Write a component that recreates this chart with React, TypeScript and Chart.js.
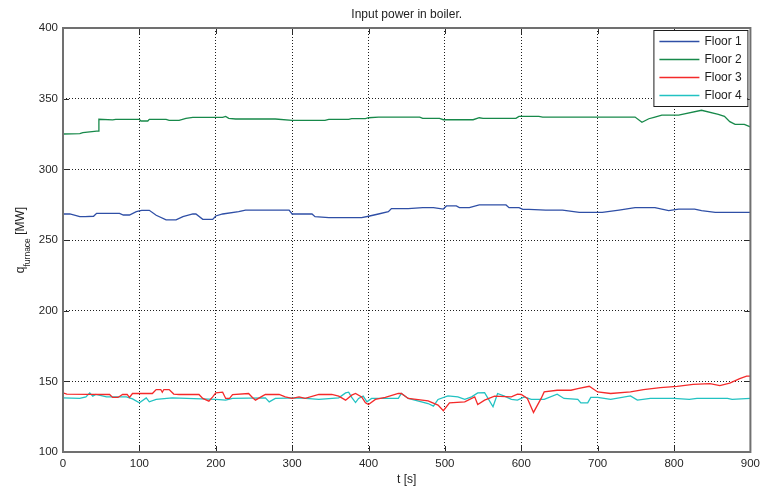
import React, { useEffect, useRef } from 'react';
import { Chart, registerables } from 'chart.js';

Chart.register(...registerables);

// ---- data (time in s, power in MW) ----
const floor1T = [0, 9, 22, 29, 40, 44, 74, 79, 87, 96, 103, 113, 122, 135, 148, 157, 170, 174, 183, 196, 200, 209, 230, 239, 296, 300, 326, 330, 348, 391, 400, 413, 426, 430, 452, 471, 485, 498, 502, 515, 519, 532, 545, 580, 584, 597, 602, 610, 632, 654, 676, 706, 728, 749, 775, 793, 806, 827, 836, 854, 900];
const floor1V = [268.4, 268.4, 266.5, 266.5, 266.8, 268.9, 268.9, 267.7, 267.7, 270, 271, 271, 267.5, 264.2, 264.2, 266.5, 268.4, 268.4, 264.6, 264.6, 267, 268.4, 270, 271.2, 271.2, 268.4, 268.4, 266.5, 265.8, 265.8, 266.8, 268.4, 270, 272.2, 272.2, 272.9, 272.9, 271.9, 274.1, 274.1, 272.9, 272.9, 274.8, 274.8, 272.9, 272.9, 271.7, 271.7, 271.2, 271.2, 269.6, 269.6, 271.2, 272.9, 272.9, 270.8, 271.9, 271.9, 270.8, 269.6, 269.6];

const floor2T = [0, 22, 26, 44, 46, 47, 65, 69, 100, 102, 111, 113, 135, 139, 152, 161, 170, 209, 213, 217, 226, 278, 300, 317, 343, 348, 374, 378, 396, 400, 413, 452, 467, 471, 493, 498, 537, 545, 550, 593, 597, 623, 628, 749, 758, 767, 775, 784, 806, 836, 858, 866, 873, 880, 892, 900];
const floor2V = [325, 325.3, 325.9, 327.1, 327.1, 335.4, 335, 335.4, 335.4, 334.2, 334.2, 335.4, 335.4, 334.7, 334.7, 336.1, 336.8, 336.8, 337.4, 336.1, 335.6, 335.6, 334.7, 334.7, 334.7, 335.4, 335.4, 335.9, 335.9, 336.5, 337, 337, 337, 336.1, 336.1, 335.1, 335.1, 336.5, 336.1, 336.1, 337.5, 337.5, 337, 337, 333.3, 335.8, 337, 338.4, 338.4, 341.8, 338.9, 337.5, 333.7, 331.8, 331.8, 330];

const floor3T = [0, 5, 61, 65, 72, 78, 84, 87, 91, 117, 122, 128, 130, 132, 139, 145, 152, 178, 183, 191, 196, 200, 209, 213, 218, 222, 243, 248, 252, 261, 265, 283, 291, 300, 309, 317, 335, 352, 361, 370, 378, 383, 391, 396, 400, 409, 422, 439, 443, 452, 478, 491, 498, 506, 526, 539, 543, 552, 565, 587, 595, 600, 608, 616, 626, 630, 647, 665, 674, 689, 700, 717, 743, 760, 782, 804, 825, 847, 860, 873, 886, 895, 900];
const floor3V = [141.8, 141, 140.7, 138.6, 138.6, 140.7, 140.7, 138.6, 141.4, 141.4, 144.2, 144.2, 142.3, 144.2, 144.2, 141, 140.7, 140.7, 137.9, 136, 139, 141.8, 142.3, 137.9, 138, 140.6, 141.4, 138.6, 136.7, 139.5, 140.7, 140.7, 139, 137.9, 139, 137.9, 140.7, 140.7, 139.5, 136.7, 140.2, 141.4, 139, 134.8, 133.6, 137.2, 138.6, 141.4, 141.4, 137.9, 136.2, 133.2, 129.2, 134.8, 135.5, 139, 133.6, 136.7, 139.5, 139, 140.9, 140.7, 137.9, 128, 137.9, 142.5, 143.7, 143.7, 144.9, 146.5, 142.5, 141.4, 142.5, 144.2, 145.6, 146.5, 147.9, 148.4, 147, 148.8, 151.9, 153.7, 153.7];

const floor4T = [0, 22, 30, 35, 39, 43, 57, 83, 91, 100, 109, 113, 122, 143, 200, 213, 222, 265, 270, 278, 309, 335, 361, 370, 374, 378, 383, 387, 393, 398, 404, 439, 443, 452, 478, 485, 491, 504, 517, 526, 535, 543, 552, 563, 569, 578, 587, 595, 604, 613, 630, 647, 656, 674, 678, 687, 691, 700, 717, 743, 752, 769, 800, 820, 830, 870, 876, 900];
const floor4V = [138.3, 137.9, 139, 141.8, 139.5, 140.7, 139, 139, 137.6, 134.8, 138.3, 135.5, 137.2, 138.3, 137.2, 136.7, 137.9, 138.3, 135.5, 137.9, 138.3, 137.2, 138.3, 141.8, 142.3, 138.6, 135, 137.9, 139.5, 135.5, 137.9, 137.9, 141.4, 137.9, 134.3, 132.5, 137.2, 139.7, 139, 137.2, 139, 141.8, 142, 132, 141.4, 139.5, 137.2, 136.7, 139, 137.2, 137.2, 140.9, 137.9, 137.2, 134.8, 134.8, 138.6, 138.6, 137.2, 139.7, 136.7, 137.9, 137.9, 137.2, 137.9, 137.9, 137.2, 137.9];

const seriesLabels = ['Floor 1', 'Floor 2', 'Floor 3', 'Floor 4'];
const titleText = 'Input power in boiler.';
const xTitle = 't [s]';
const yTitleMain = 'q';
const yTitleSub = 'furnace';
const yTitleUnit = ' [MW]';

const FONT = "'Liberation Sans', Arial, Helvetica, sans-serif";
const COLORS = ['#2f4fa6', '#17894a', '#f42a2a', '#22c2c2'];

const toPoints = (t: number[], v: number[]) => t.map((x, i) => ({ x, y: v[i] }));

const framePlugin = {
  id: 'matlabFrame',
  afterDraw(chart: any) {
    const { ctx, chartArea: ca, scales } = chart;
    ctx.save();
    // inner tick marks
    ctx.strokeStyle = '#2a2a2a';
    ctx.lineWidth = 1;
    ctx.beginPath();
    scales.x.ticks.forEach((t: any) => {
      const x = Math.round(scales.x.getPixelForValue(t.value)) + 0.5;
      ctx.moveTo(x, ca.top);
      ctx.lineTo(x, ca.top + 6);
      ctx.moveTo(x, ca.bottom);
      ctx.lineTo(x, ca.bottom - 6);
    });
    scales.y.ticks.forEach((t: any) => {
      const y = Math.round(scales.y.getPixelForValue(t.value)) + 0.5;
      ctx.moveTo(ca.left, y);
      ctx.lineTo(ca.left + 6, y);
      ctx.moveTo(ca.right, y);
      ctx.lineTo(ca.right - 6, y);
    });
    ctx.stroke();
    // axes box
    ctx.strokeStyle = '#707070';
    ctx.lineWidth = 2;
    ctx.strokeRect(ca.left, ca.top, ca.right - ca.left, ca.bottom - ca.top);

    // legend
    const lw = 94, lh = 76;
    const lx = ca.right - 3 - lw;
    const ly = ca.top + 2;
    ctx.fillStyle = '#ffffff';
    ctx.fillRect(lx, ly, lw, lh);
    ctx.strokeStyle = '#1e1e1e';
    ctx.lineWidth = 1;
    ctx.strokeRect(lx + 0.5, ly + 0.5, lw, lh);
    ctx.font = `12px ${FONT}`;
    ctx.textBaseline = 'middle';
    ctx.textAlign = 'left';
    chart.data.datasets.forEach((ds: any, i: number) => {
      const y = Math.round(ly + 11 + i * 18) + 0.5;
      ctx.strokeStyle = ds.borderColor;
      ctx.lineWidth = 1.3;
      ctx.beginPath();
      ctx.moveTo(lx + 6, y);
      ctx.lineTo(lx + 46, y);
      ctx.stroke();
      ctx.fillStyle = '#1e1e1e';
      ctx.fillText(ds.label, lx + 51, y);
    });

    // y-axis title with subscript
    ctx.translate(23.5, (ca.top + ca.bottom) / 2);
    ctx.rotate(-Math.PI / 2);
    ctx.fillStyle = '#1e1e1e';
    ctx.textBaseline = 'alphabetic';
    const mainFont = `12px ${FONT}`;
    const subFont = `8.5px ${FONT}`;
    ctx.font = mainFont;
    const wq = ctx.measureText(yTitleMain).width;
    const wu = ctx.measureText(yTitleUnit).width;
    ctx.font = subFont;
    const ws = ctx.measureText(yTitleSub).width;
    const x0 = -(wq + ws + wu) / 2;
    ctx.font = mainFont;
    ctx.fillText(yTitleMain, x0, 0);
    ctx.font = subFont;
    ctx.fillText(yTitleSub, x0 + wq, 6);
    ctx.font = mainFont;
    ctx.fillText(yTitleUnit, x0 + wq + ws, 0);
    ctx.restore();
  },
};

export default function App() {
  const ref = useRef<HTMLCanvasElement | null>(null);
  useEffect(() => {
    document.body.style.margin = '0';
    const canvas = ref.current;
    if (!canvas) return;
    const series = [
      toPoints(floor1T, floor1V),
      toPoints(floor2T, floor2V),
      toPoints(floor3T, floor3V),
      toPoints(floor4T, floor4V),
    ];
    const chart = new Chart(canvas, {
      type: 'line',
      data: {
        datasets: series.map((data, i) => ({
          label: seriesLabels[i],
          data,
          borderColor: COLORS[i],
          backgroundColor: COLORS[i],
          borderWidth: 1.3,
          pointRadius: 0,
          tension: 0,
          fill: false,
        })),
      },
      options: {
        responsive: false,
        animation: false,
        devicePixelRatio: 1,
        layout: { padding: { left: 0, right: 11, top: 0, bottom: 0 } },
        plugins: {
          legend: { display: false },
          tooltip: { enabled: false },
          title: {
            display: true,
            text: titleText,
            fullSize: false,
            color: '#1e1e1e',
            font: { family: FONT, size: 12, weight: 'normal' },
            padding: { top: 7, bottom: 6.6 },
          },
        },
        scales: {
          x: {
            type: 'linear',
            min: 0,
            max: 900,
            ticks: {
              stepSize: 100,
              color: '#262626',
              font: { family: FONT, size: 11.5 },
              padding: 5,
              maxRotation: 0,
            },
            grid: { color: '#1e1e1e', lineWidth: 1, drawTicks: false },
            border: { display: false, dash: [1, 2] },
            title: {
              display: true,
              text: xTitle,
              color: '#1e1e1e',
              font: { family: FONT, size: 12 },
              padding: { top: 0, bottom: 6 },
            },
            afterFit: (s: any) => { s.height = 41; },
          },
          y: {
            type: 'linear',
            min: 100,
            max: 400,
            ticks: {
              stepSize: 50,
              color: '#262626',
              font: { family: FONT, size: 11.5 },
              padding: 5,
            },
            grid: { color: '#1e1e1e', lineWidth: 1, drawTicks: false },
            border: { display: false, dash: [1, 2] },
            afterFit: (s: any) => { s.width = 63; },
          },
        },
      },
      plugins: [framePlugin],
    } as any);
    return () => chart.destroy();
  }, []);
  return (
    <div style={{ width: 765, height: 493, background: '#fff' }}>
      <canvas ref={ref} width={765} height={493} style={{ display: 'block' }} />
    </div>
  );
}
